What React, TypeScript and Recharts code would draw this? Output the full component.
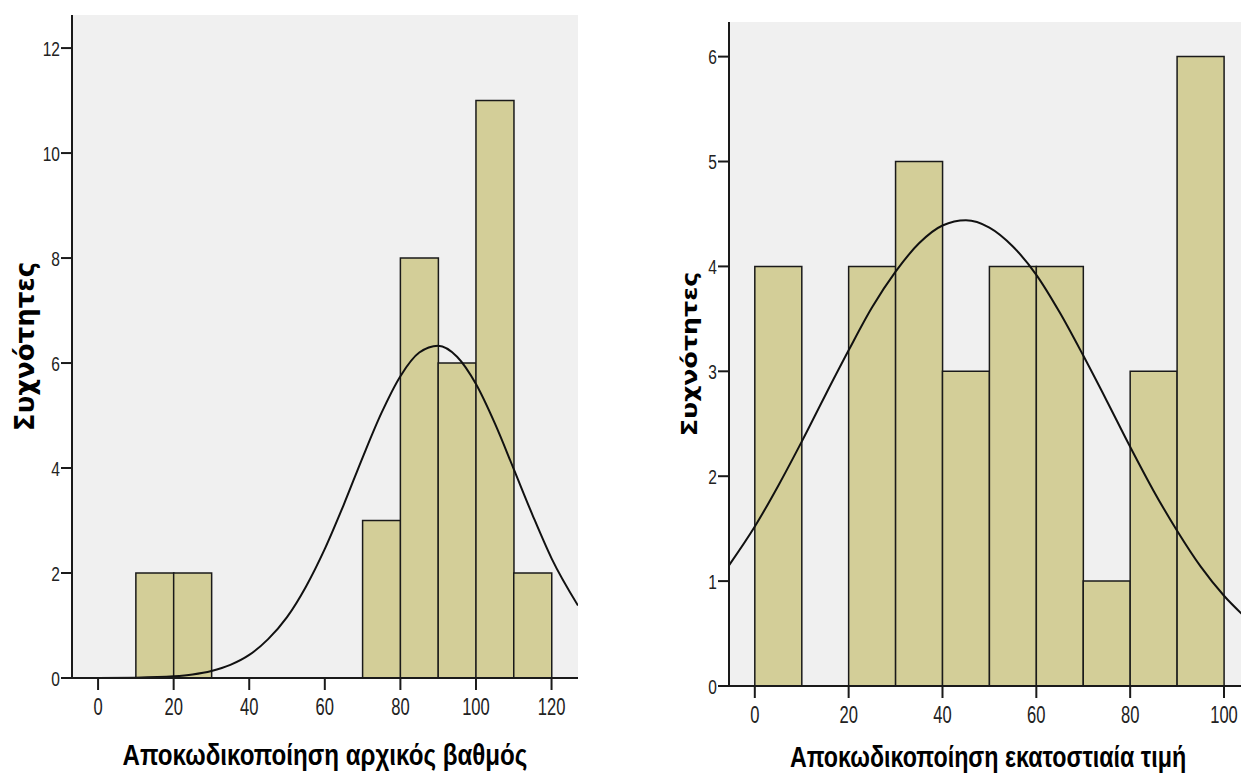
import React from 'react';
import { ComposedChart, Bar, Line, XAxis, YAxis, CartesianGrid } from 'recharts';

// ---------- Left histogram: Αποκωδικοποίηση αρχικός βαθμός ----------
const leftBinMids = [15, 25, 75, 85, 95, 105, 115];
const leftCounts = [2, 2, 3, 8, 6, 11, 2];
const leftCurveX = [-6.9, 0, 10, 20, 25, 30, 35, 40, 45, 50, 55, 60, 65, 70, 75, 80, 85, 90, 95, 100, 105, 110, 115, 120, 127];
const leftCurveY = [0.0, 0.001, 0.007, 0.033, 0.068, 0.134, 0.25, 0.44, 0.74, 1.16, 1.74, 2.46, 3.3, 4.2, 5.05, 5.75, 6.2, 6.33, 6.12, 5.6, 4.85, 3.98, 3.1, 2.28, 1.38];
const leftXTicks = [0, 20, 40, 60, 80, 100, 120];
const leftYTicks = [0, 2, 4, 6, 8, 10, 12];
const leftXDomain = [-6.9, 127];
const leftYDomain = [0, 12.63];
const leftXTitle = 'Αποκωδικοποίηση αρχικός βαθμός';

// ---------- Right histogram: Αποκωδικοποίηση εκατοστιαία τιμή ----------
const rightBinMids = [5, 15, 25, 35, 45, 55, 65, 75, 85, 95];
const rightCounts = [4, 0, 4, 5, 3, 4, 4, 1, 3, 6];
const rightCurveX = [-5.5, 0, 5, 10, 15, 20, 25, 30, 35, 40, 45, 50, 55, 60, 65, 70, 75, 80, 85, 90, 95, 100, 104.9];
const rightCurveY = [1.15, 1.52, 1.91, 2.33, 2.77, 3.2, 3.61, 3.95, 4.22, 4.39, 4.44, 4.37, 4.19, 3.92, 3.56, 3.15, 2.72, 2.28, 1.86, 1.48, 1.14, 0.86, 0.64];
const rightXTicks = [0, 20, 40, 60, 80, 100];
const rightYTicks = [0, 1, 2, 3, 4, 5, 6];
const rightXDomain = [-5.5, 104.9];
const rightYDomain = [0, 6.33];
const rightXTitle = 'Αποκωδικοποίηση εκατοστιαία τιμή';

const yTitle = 'Συχνότητες';

const SANS = '"Liberation Sans", Arial, sans-serif';
const WIDE = '"DejaVu Sans", Verdana, sans-serif';

const BAR_FILL = '#D3CE98';
const PLOT_BG = '#F0F0F0';
const TICK_COLOR = '#222';

const XTick = (props: any) => {
  const { x, y, payload } = props;
  return (
    <g transform={`translate(${x},${y})`}>
      <text transform="scale(0.72,1)" textAnchor="middle" dy="0.72em" fill={TICK_COLOR} fontSize={23} fontFamily={SANS}>
        {payload.value}
      </text>
    </g>
  );
};

const YTick = (props: any) => {
  const { x, y, payload } = props;
  return (
    <g transform={`translate(${x},${y})`}>
      <text transform="scale(0.74,1)" textAnchor="end" dy="0.36em" fill={TICK_COLOR} fontSize={21} fontFamily={SANS}>
        {payload.value}
      </text>
    </g>
  );
};

type PanelProps = {
  left: number;
  width: number;
  height: number;
  margin: { top: number; right: number; bottom: number; left: number };
  yAxisWidth: number;
  xAxisHeight: number;
  mids: number[];
  counts: number[];
  curveX: number[];
  curveY: number[];
  xTicks: number[];
  yTicks: number[];
  xDomain: number[];
  yDomain: number[];
  xTitle: string;
  xTitleScale: number;
  xTitleBottom: number;
  yTitleCenter: number;
  yTitleSize: number;
  yTitleScale: number;
};

function Panel(p: PanelProps) {
  const bins = p.mids.map((m, i) => ({ mid: m, count: p.counts[i] }));
  const curve = p.curveX.map((x, i) => ({ x, y: p.curveY[i] }));

  const xTitleContent = (lp: any) => {
    const vb = lp.viewBox || {};
    const cx = vb.x + vb.width / 2;
    const by = vb.y + vb.height - p.xTitleBottom;
    return (
      <text
        transform={`translate(${cx},${by}) scale(${p.xTitleScale},1)`}
        textAnchor="middle"
        fontFamily={SANS}
        fontWeight={700}
        fontSize={30}
        fill="#000"
      >
        {p.xTitle}
      </text>
    );
  };

  const yTitleContent = (lp: any) => {
    const vb = lp.viewBox || {};
    const cx = vb.x + p.yTitleCenter + p.yTitleSize * 0.365;
    const cy = vb.y + vb.height / 2;
    return (
      <text
        transform={`translate(${cx},${cy}) rotate(-90) scale(${p.yTitleScale},1)`}
        textAnchor="middle"
        fontFamily={WIDE}
        fontWeight={700}
        fontSize={p.yTitleSize}
        fill="#000"
      >
        {yTitle}
      </text>
    );
  };

  return (
    <div style={{ position: 'absolute', left: p.left, top: 0, width: p.width, height: p.height }}>
      <ComposedChart
        width={p.width}
        height={p.height}
        data={bins}
        margin={p.margin}
        barCategoryGap={0}
        barGap={0}
      >
        <CartesianGrid fill={PLOT_BG} horizontal={false} vertical={false} xAxisId="bins" yAxisId="main" />
        <XAxis
          xAxisId="bins"
          dataKey="mid"
          type="number"
          domain={p.xDomain}
          allowDataOverflow
          ticks={p.xTicks}
          interval={0}
          height={p.xAxisHeight}
          tickSize={12}
          tickMargin={8}
          axisLine={{ stroke: '#1a1a1a', strokeWidth: 2 }}
          tickLine={{ stroke: '#1a1a1a', strokeWidth: 2 }}
          tick={XTick}
          label={{ content: xTitleContent }}
        />
        <XAxis xAxisId="curve" dataKey="x" type="number" domain={p.xDomain} allowDataOverflow hide />
        <XAxis
          xAxisId="top"
          orientation="top"
          type="number"
          domain={p.xDomain}
          allowDataOverflow
          height={0}
          tick={false}
          tickLine={false}
          axisLine={{ stroke: '#555', strokeWidth: 2 }}
        />
        <YAxis
          yAxisId="main"
          type="number"
          domain={p.yDomain}
          allowDataOverflow
          ticks={p.yTicks}
          interval={0}
          width={p.yAxisWidth}
          tickSize={11}
          tickMargin={1}
          axisLine={{ stroke: '#1a1a1a', strokeWidth: 2 }}
          tickLine={{ stroke: '#1a1a1a', strokeWidth: 2 }}
          tick={YTick}
          label={{ content: yTitleContent }}
        />
        <YAxis
          yAxisId="right"
          orientation="right"
          type="number"
          domain={p.yDomain}
          allowDataOverflow
          width={0}
          tick={false}
          tickLine={false}
          axisLine={{ stroke: '#3a3a3a', strokeWidth: 2 }}
        />
        <Bar
          xAxisId="bins"
          yAxisId="main"
          dataKey="count"
          fill={BAR_FILL}
          stroke="#1a1a1a"
          strokeWidth={1.5}
          isAnimationActive={false}
        />
        <Line
          xAxisId="curve"
          yAxisId="main"
          data={curve}
          dataKey="y"
          type="monotone"
          stroke="#111"
          strokeWidth={2}
          dot={false}
          activeDot={false}
          isAnimationActive={false}
        />
      </ComposedChart>
    </div>
  );
}

export default function App() {
  return (
    <div
      style={{
        position: 'absolute',
        left: 0,
        top: 0,
        width: 1241,
        height: 776,
        background: '#fff',
      }}
    >
      <Panel
        left={0}
        width={620}
        height={776}
        margin={{ top: 15, right: 42, bottom: 0, left: 0 }}
        yAxisWidth={72}
        xAxisHeight={98}
        mids={leftBinMids}
        counts={leftCounts}
        curveX={leftCurveX}
        curveY={leftCurveY}
        xTicks={leftXTicks}
        yTicks={leftYTicks}
        xDomain={leftXDomain}
        yDomain={leftYDomain}
        xTitle={leftXTitle}
        xTitleScale={0.805}
        xTitleBottom={11}
        yTitleCenter={25}
        yTitleSize={26}
        yTitleScale={1}
      />
      <Panel
        left={620}
        width={621}
        height={776}
        margin={{ top: 22, right: -6, bottom: 0, left: 0 }}
        yAxisWidth={109}
        xAxisHeight={90}
        mids={rightBinMids}
        counts={rightCounts}
        curveX={rightCurveX}
        curveY={rightCurveY}
        xTicks={rightXTicks}
        yTicks={rightYTicks}
        xDomain={rightXDomain}
        yDomain={rightYDomain}
        xTitle={rightXTitle}
        xTitleScale={0.776}
        xTitleBottom={9}
        yTitleCenter={69}
        yTitleSize={22}
        yTitleScale={1.15}
      />
    </div>
  );
}
